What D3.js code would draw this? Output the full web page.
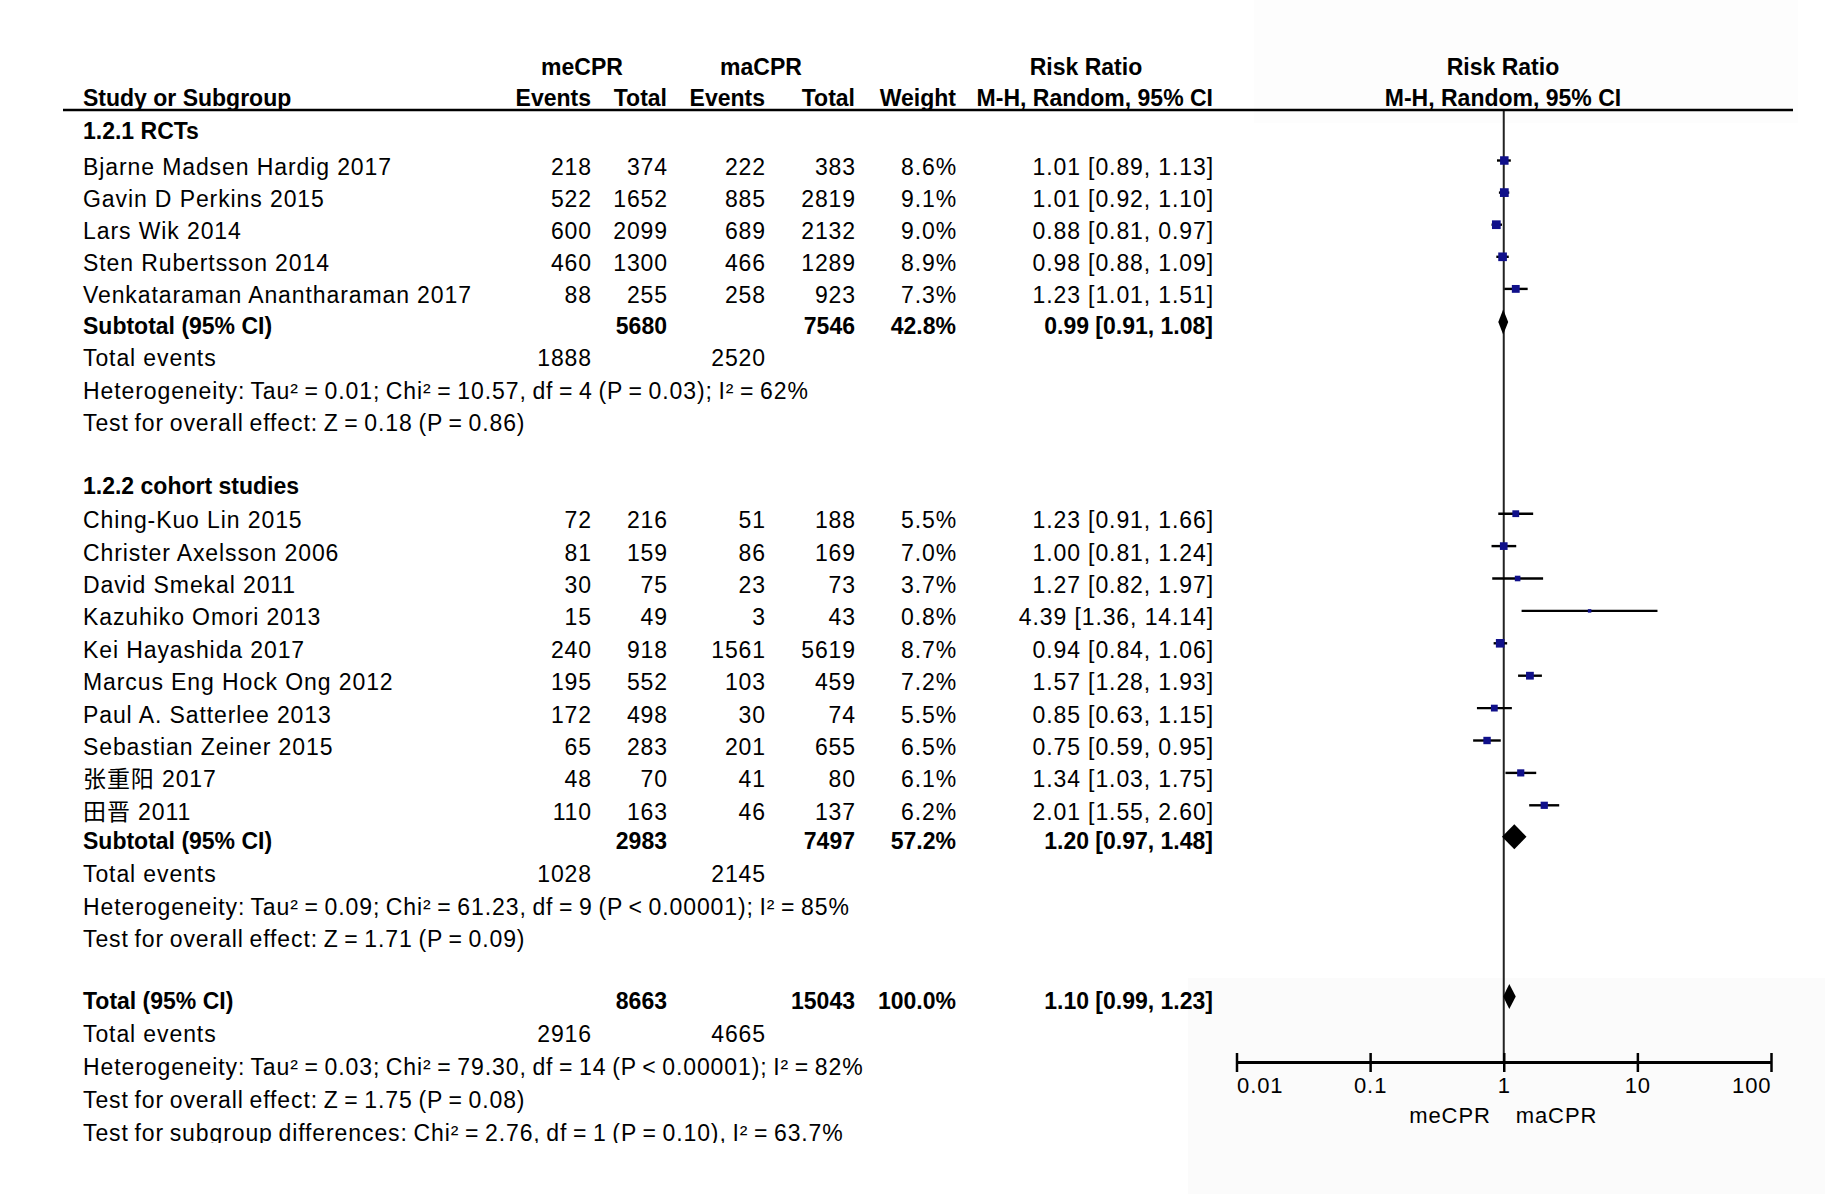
<!DOCTYPE html>
<html lang="en">
<head>
    <meta charset="UTF-8">
    <title>Forest Plot - meCPR vs maCPR</title>
    <style>
        body {
            margin: 0;
            background-color: #fff;
        }
        svg text {
            font-family: "Liberation Sans", Arial, "Noto Sans CJK SC", sans-serif;
            font-size: 23px;
            fill: #000;
        }
        .reg {
            letter-spacing: 0.9px;
        }
        .stat {
            letter-spacing: 0.9px;
            word-spacing: -1.6px;
        }
        .bold {
            font-weight: bold;
        }
        .ci-line {
            stroke: #000;
            stroke-width: 2.4;
        }
        .square {
            fill: #10108a;
        }
        .diamond {
            fill: #000;
        }
    </style>
</head>
<body>
    <svg width="1846" height="1194"></svg>
    <script src="https://cdn.jsdelivr.net/npm/d3@7"></script>
    <script>
        // studies
        const studyNames = [
            "Bjarne Madsen Hardig 2017", "Gavin D Perkins 2015", "Lars Wik 2014",
            "Sten Rubertsson 2014", "Venkataraman Anantharaman 2017",
            "Ching-Kuo Lin 2015", "Christer Axelsson 2006", "David Smekal 2011",
            "Kazuhiko Omori 2013", "Kei Hayashida 2017", "Marcus Eng Hock Ong 2012",
            "Paul A. Satterlee 2013", "Sebastian Zeiner 2015", "张重阳 2017", "田晋 2011"
        ];
        const studyGroup = [0, 0, 0, 0, 0, 1, 1, 1, 1, 1, 1, 1, 1, 1, 1];
        const meEvents = [218, 522, 600, 460, 88, 72, 81, 30, 15, 240, 195, 172, 65, 48, 110];
        const meTotal  = [374, 1652, 2099, 1300, 255, 216, 159, 75, 49, 918, 552, 498, 283, 70, 163];
        const maEvents = [222, 885, 689, 466, 258, 51, 86, 23, 3, 1561, 103, 30, 201, 41, 46];
        const maTotal  = [383, 2819, 2132, 1289, 923, 188, 169, 73, 43, 5619, 459, 74, 655, 80, 137];
        const weights  = [8.6, 9.1, 9.0, 8.9, 7.3, 5.5, 7.0, 3.7, 0.8, 8.7, 7.2, 5.5, 6.5, 6.1, 6.2];
        const rr       = [1.01, 1.01, 0.88, 0.98, 1.23, 1.23, 1.00, 1.27, 4.39, 0.94, 1.57, 0.85, 0.75, 1.34, 2.01];
        const rrLow    = [0.89, 0.92, 0.81, 0.88, 1.01, 0.91, 0.81, 0.82, 1.36, 0.84, 1.28, 0.63, 0.59, 1.03, 1.55];
        const rrHigh   = [1.13, 1.10, 0.97, 1.09, 1.51, 1.66, 1.24, 1.97, 14.14, 1.06, 1.93, 1.15, 0.95, 1.75, 2.60];

        // subgroups
        const groupNames = ["1.2.1 RCTs", "1.2.2 cohort studies"];
        const groupMeTotal = [5680, 2983];
        const groupMaTotal = [7546, 7497];
        const groupWeight = [42.8, 57.2];
        const groupRR = [0.99, 1.20];
        const groupLow = [0.91, 0.97];
        const groupHigh = [1.08, 1.48];
        const groupMeEvents = [1888, 1028];
        const groupMaEvents = [2520, 2145];
        const groupHet = [
            "Heterogeneity: Tau² = 0.01; Chi² = 10.57, df = 4 (P = 0.03); I² = 62%",
            "Heterogeneity: Tau² = 0.09; Chi² = 61.23, df = 9 (P < 0.00001); I² = 85%"
        ];
        const groupTest = [
            "Test for overall effect: Z = 0.18 (P = 0.86)",
            "Test for overall effect: Z = 1.71 (P = 0.09)"
        ];

        // overall
        const totalMeTotal = 8663;
        const totalMaTotal = 15043;
        const totalWeight = 100.0;
        const totalRR = [1.10, 0.99, 1.23];
        const totalMeEvents = 2916;
        const totalMaEvents = 4665;
        const totalHet = "Heterogeneity: Tau² = 0.03; Chi² = 79.30, df = 14 (P < 0.00001); I² = 82%";
        const totalTest = "Test for overall effect: Z = 1.75 (P = 0.08)";
        const subgroupTest = "Test for subgroup differences: Chi² = 2.76, df = 1 (P = 0.10), I² = 63.7%";

        // axis
        const axisTicks = [0.01, 0.1, 1, 10, 100];
        const tickLabels = ["0.01", "0.1", "1", "10", "100"];
        const favours = ["meCPR", "maCPR"];

        const svg = d3.select("svg");

        // faint grey panels from the original export
        svg.append("rect").attr("x", 1188).attr("y", 978).attr("width", 637).attr("height", 216).attr("fill", "#fbfbfb");
        svg.append("rect").attr("x", 1254).attr("y", 0).attr("width", 544).attr("height", 123).attr("fill", "#fdfdfd");

        const x = d3.scaleLog().domain([0.01, 100]).range([1236.5, 1771]);
        const col = { name: 83, ev1: 592, tot1: 668, ev2: 766, tot2: 856, w: 957, ci: 1214 };
        const axisY = 1062;
        const fmtCI = (m, l, h) => `${m.toFixed(2)} [${l.toFixed(2)}, ${h.toFixed(2)}]`;

        function txt(xp, yp, s, cls, anchor) {
            return svg.append("text")
                .attr("x", xp).attr("y", yp)
                .attr("class", cls)
                .attr("text-anchor", anchor || "start")
                .text(s);
        }

        // header
        txt(582, 75, "meCPR", "bold", "middle");
        txt(761, 75, "maCPR", "bold", "middle");
        txt(1086, 75, "Risk Ratio", "bold", "middle");
        txt(1503, 75, "Risk Ratio", "bold", "middle");
        txt(col.name, 106, "Study or Subgroup", "bold");
        txt(col.ev1 - 1, 106, "Events", "bold", "end");
        txt(col.tot1 - 1, 106, "Total", "bold", "end");
        txt(col.ev2 - 1, 106, "Events", "bold", "end");
        txt(col.tot2 - 1, 106, "Total", "bold", "end");
        txt(col.w - 1, 106, "Weight", "bold", "end");
        txt(col.ci - 1, 106, "M-H, Random, 95% CI", "bold", "end");
        txt(1503, 106, "M-H, Random, 95% CI", "bold", "middle");

        // reference line at RR = 1
        svg.append("line")
            .attr("x1", x(1)).attr("x2", x(1))
            .attr("y1", 110).attr("y2", axisY)
            .attr("stroke", "#222").attr("stroke-width", 2);

        svg.append("line")
            .attr("x1", 63).attr("x2", 1793)
            .attr("y1", 110).attr("y2", 110)
            .attr("stroke", "#000").attr("stroke-width", 2.5);

        function diamond(m, l, h, cy) {
            const hh = 12.5;
            svg.append("path")
                .attr("class", "diamond")
                .attr("d", `M${x(l)},${cy} L${x(m)},${cy - hh} L${x(h)},${cy} L${x(m)},${cy + hh} Z`);
        }

        // rows
        let y = 139;
        groupNames.forEach((g, gi) => {
            txt(col.name, y, g, "bold");
            y += gi === 0 ? 36 : 34;
            const idx = studyNames.map((d, i) => i).filter(i => studyGroup[i] === gi);
            idx.forEach((i, k) => {
                if (k > 0) y += gi === 0 ? 32.1 : 32.4;
                txt(col.name, y, studyNames[i], "reg");
                txt(col.ev1, y, meEvents[i], "reg", "end");
                txt(col.tot1, y, meTotal[i], "reg", "end");
                txt(col.ev2, y, maEvents[i], "reg", "end");
                txt(col.tot2, y, maTotal[i], "reg", "end");
                txt(col.w, y, weights[i].toFixed(1) + "%", "reg", "end");
                txt(col.ci, y, fmtCI(rr[i], rrLow[i], rrHigh[i]), "reg", "end");

                const cy = y - 14.5;
                svg.append("line")
                    .attr("class", "ci-line")
                    .attr("x1", x(rrLow[i])).attr("x2", x(rrHigh[i]))
                    .attr("y1", cy).attr("y2", cy);
                const s = Math.max(3.5, 2.9 * Math.sqrt(weights[i]));
                svg.append("rect")
                    .attr("class", "square")
                    .attr("x", x(rr[i]) - s / 2).attr("y", cy - s / 2)
                    .attr("width", s).attr("height", s);
            });
            y += gi === 0 ? 31 : 29.5;
            txt(col.name, y, "Subtotal (95% CI)", "bold");
            txt(col.tot1 - 1, y, groupMeTotal[gi], "bold", "end");
            txt(col.tot2 - 1, y, groupMaTotal[gi], "bold", "end");
            txt(col.w - 1, y, groupWeight[gi].toFixed(1) + "%", "bold", "end");
            txt(col.ci - 1, y, fmtCI(groupRR[gi], groupLow[gi], groupHigh[gi]), "bold", "end");
            diamond(groupRR[gi], groupLow[gi], groupHigh[gi], y - 12.5);
            y += gi === 0 ? 32 : 33;
            txt(col.name, y, "Total events", "reg");
            txt(col.ev1, y, groupMeEvents[gi], "reg", "end");
            txt(col.ev2, y, groupMaEvents[gi], "reg", "end");
            y += 32.4;
            txt(col.name, y, groupHet[gi], "stat");
            y += 32.4;
            txt(col.name, y, groupTest[gi], "stat");
            y += gi === 0 ? 63 : 62;
        });

        // overall
        txt(col.name, y, "Total (95% CI)", "bold");
        txt(col.tot1 - 1, y, totalMeTotal, "bold", "end");
        txt(col.tot2 - 1, y, totalMaTotal, "bold", "end");
        txt(col.w - 1, y, totalWeight.toFixed(1) + "%", "bold", "end");
        txt(col.ci - 1, y, fmtCI(totalRR[0], totalRR[1], totalRR[2]), "bold", "end");
        diamond(totalRR[0], totalRR[1], totalRR[2], y - 12.5);
        y += 33;
        txt(col.name, y, "Total events", "reg");
        txt(col.ev1, y, totalMeEvents, "reg", "end");
        txt(col.ev2, y, totalMaEvents, "reg", "end");
        y += 33;
        txt(col.name, y, totalHet, "stat");
        y += 33;
        txt(col.name, y, totalTest, "stat");
        y += 33;
        svg.append("clipPath").attr("id", "bottom-clip")
            .append("rect").attr("x", 0).attr("y", 0).attr("width", 1846).attr("height", y + 2);
        txt(col.name, y, subgroupTest, "stat").attr("clip-path", "url(#bottom-clip)");

        // axis
        const axis = svg.append("g")
            .attr("transform", `translate(0,${axisY})`)
            .call(d3.axisBottom(x)
                .tickValues(axisTicks)
                .tickFormat((d, i) => tickLabels[i])
                .tickSize(10)
                .tickSizeOuter(0));
        axis.select(".domain").attr("stroke", "#000").attr("stroke-width", 3);
        axis.selectAll(".tick line")
            .attr("y1", -9).attr("y2", 10)
            .attr("stroke", "#000").attr("stroke-width", 2.5);
        axis.selectAll(".tick text")
            .attr("class", "reg")
            .attr("y", 31).attr("dy", null)
            .style("font-size", "22px")
            .attr("fill", "#000")
            .attr("text-anchor", (d, i) => i === 0 ? "start" : (i === axisTicks.length - 1 ? "end" : "middle"));

        txt(x(1) - 13, 1123, favours[0], "reg", "end").style("font-size", "22px");
        txt(x(1) + 12, 1123, favours[1], "reg", "start").style("font-size", "22px");
    </script>
</body>
</html>
